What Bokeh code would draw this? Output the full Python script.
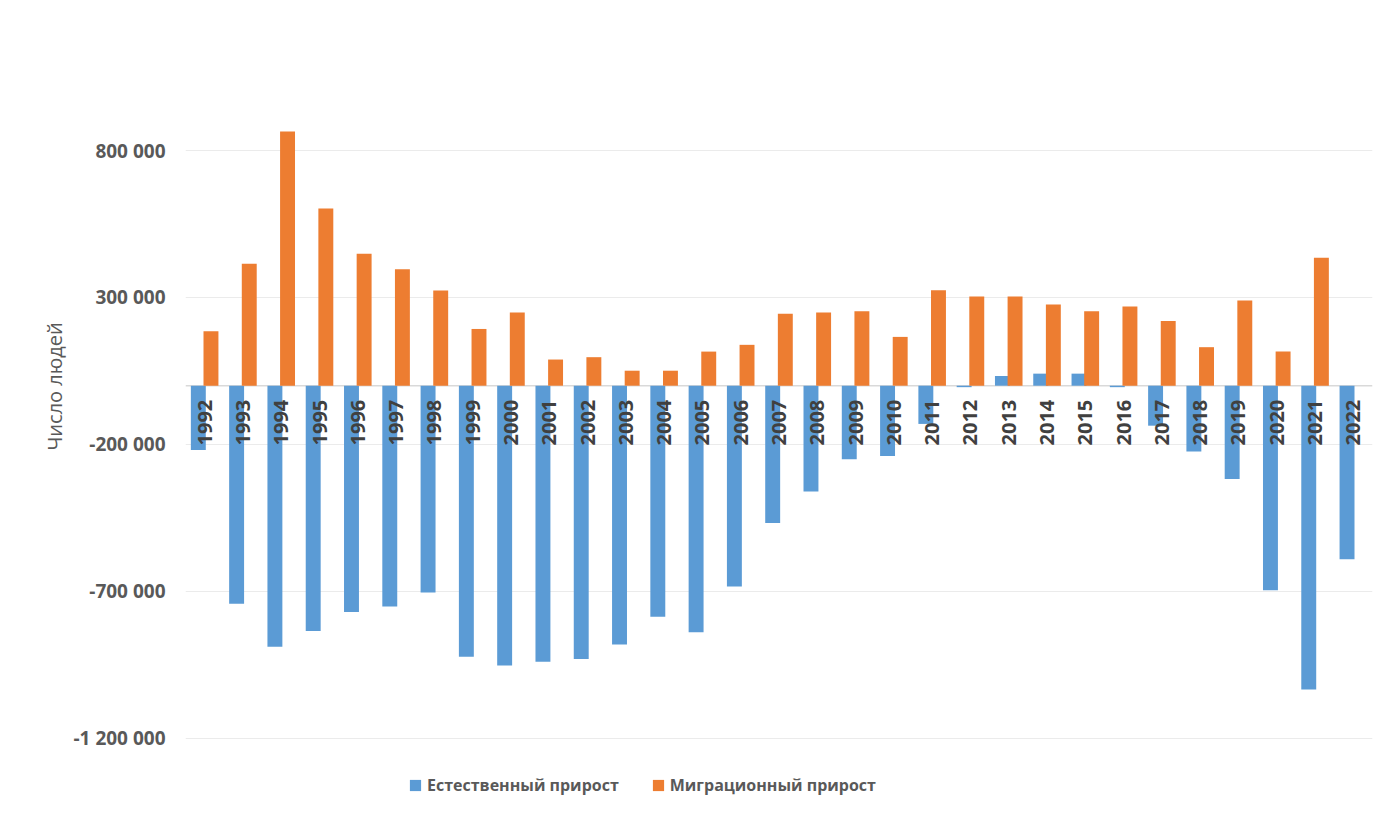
import math
from bokeh.plotting import figure
from bokeh.models import ColumnDataSource, FixedTicker, Span, Legend, LegendItem, Range1d, Title
from bokeh.transform import dodge
from bokeh.core.properties import value
from bokeh.embed import file_html
from bokeh.resources import INLINE

years = [str(y) for y in range(1992, 2023)]
natural = [-219000, -742000, -888000, -834000, -770000, -751000, -703000, -922000,
           -952000, -939000, -930000, -880000, -786000, -839000, -683000, -467000,
           -360000, -250000, -239000, -130000, -5000, 33000, 41000, 41000,
           -5000, -136000, -224000, -317000, -696000, -1033000, -590000]
migration = [185000, 415000, 865000, 603000, 449000, 396000, 324000, 193000,
             249000, 89000, 97000, 51000, 51000, 116000, 139000, 245000,
             249000, 253000, 166000, 325000, 303000, 303000, 276000, 253000,
             269000, 220000, 131000, 290000, 116000, 435000, 0]
tick_values = [800000, 300000, -200000, -700000, -1200000]
tick_labels = ["800 000", "300 000", "-200 000", "-700 000", "-1 200 000"]
series_names = ["Естественный прирост", "Миграционный прирост"]
y_title = "Число людей"

FONT = "Open Sans"

src = ColumnDataSource(dict(year=years, natural=natural, migration=migration,
                            zero=[0] * len(years)))

p = figure(x_range=years, y_range=Range1d(-1441497, 1242177),
           width=1376, height=809, output_backend="svg", toolbar_location=None,
           min_border_left=185, min_border_right=4, min_border_top=20,
           min_border_bottom=0)
p.outline_line_color = None
p.background_fill_color = "white"
p.border_fill_color = "white"

r1 = p.vbar(x=dodge("year", -0.165, range=p.x_range), top="natural", bottom=0,
            width=0.39, source=src, fill_color="#5B9BD5", line_color=None)
r2 = p.vbar(x=dodge("year", 0.165, range=p.x_range), top="migration", bottom=0,
            width=0.39, source=src, fill_color="#ED7D31", line_color=None)

p.add_layout(Span(location=0, dimension="width", line_color="#D9D9D9",
                  line_width=1.5, level="underlay"))

p.text(x="year", y="zero", text="year", source=src, angle=math.pi / 2,
       text_align="right", text_baseline="middle", y_offset=14,
       text_font=value(FONT), text_font_style="bold", text_font_size="20px",
       text_color="#404040")

p.xaxis.visible = False
p.xgrid.grid_line_color = None

ax = p.yaxis[0]
ax.ticker = FixedTicker(ticks=tick_values)
ax.major_label_overrides = {v: l for v, l in zip(tick_values, tick_labels)}
ax.axis_line_color = None
ax.major_tick_line_color = None
ax.minor_tick_line_color = None
ax.major_tick_out = 0
ax.major_tick_in = 0
ax.major_label_standoff = 20
ax.major_label_text_font = FONT
ax.major_label_text_font_size = "19px"
ax.major_label_text_font_style = "bold"
ax.major_label_text_color = "#595959"

p.add_layout(Title(text=y_title, align="left", offset=359, standoff=6,
                   text_font=FONT, text_font_size="20px",
                   text_font_style="normal", text_color="#595959"), "left")

p.ygrid.ticker = FixedTicker(ticks=tick_values)
p.ygrid.grid_line_color = "#EBEBEB"

legend = Legend(items=[LegendItem(label=series_names[0], renderers=[r1]),
                       LegendItem(label=series_names[1], renderers=[r2])],
                orientation="horizontal", location=(223, 13),
                border_line_color=None, background_fill_alpha=0,
                label_text_font=FONT, label_text_font_size="16px",
                label_text_font_style="bold", label_text_color="#595959",
                glyph_width=14, glyph_height=14, spacing=32, label_standoff=5,
                padding=0, margin=0)
p.add_layout(legend, "center")

open("out.html", "w").write(file_html(p, INLINE))
